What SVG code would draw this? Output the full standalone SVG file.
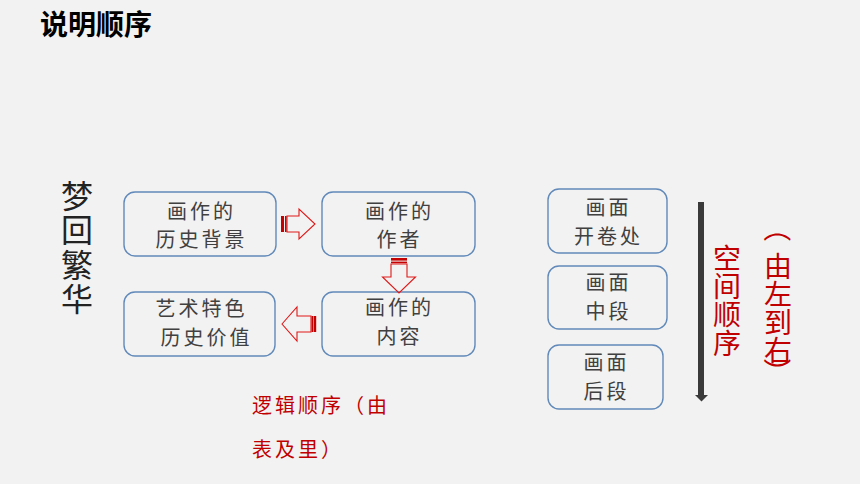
<svg xmlns="http://www.w3.org/2000/svg" width="860" height="484" viewBox="0 0 860 484">
  <style>
    .box { fill: #f2f2f2; stroke: #6189b9; stroke-width: 1.4; }
    .bt { font-family: "Noto Sans CJK SC", "Noto Sans", sans-serif; font-size: 20px; fill: #404040; text-anchor: middle; letter-spacing: 3px; }
    .barr { fill: none; stroke: #e01818; stroke-width: 1.1; stroke-linejoin: miter; }
    .stripe { fill: #c40000; }
    .vt { font-family: "Noto Sans CJK SC", sans-serif; fill: #c00000; font-size: 28px; writing-mode: vertical-rl; }
    .par { font-family: "Noto Sans CJK SC", sans-serif; fill: #c00000; font-size: 28px; text-anchor: middle; dominant-baseline: central; }
  </style>
  <rect x="0" y="0" width="860" height="484" fill="#f2f2f2"/>

  <g id="title">
    <text x="40" y="35" font-family="Noto Sans CJK SC, sans-serif" font-size="28" font-weight="bold" fill="#000">说明顺序</text>
  </g>

  <g id="label-menghui">
    <text x="77" y="180" font-family="Noto Sans CJK SC, sans-serif" font-size="32" fill="#222" letter-spacing="2.3" style="writing-mode: vertical-rl">梦回繁华</text>
  </g>

  <g id="node-background">
    <rect class="box" x="124" y="192" width="152" height="64" rx="11"/>
    <text class="bt"><tspan x="201.5" y="219">画作的</tspan><tspan x="201.5" y="247">历史背景</tspan></text>
  </g>
  <g id="node-author">
    <rect class="box" x="322" y="192" width="153" height="64" rx="11"/>
    <text class="bt"><tspan x="399.5" y="219">画作的</tspan><tspan x="399.5" y="247">作者</tspan></text>
  </g>
  <g id="node-content">
    <rect class="box" x="322" y="292" width="153" height="64" rx="11"/>
    <text class="bt"><tspan x="399.5" y="315">画作的</tspan><tspan x="399.5" y="344">内容</tspan></text>
  </g>
  <g id="node-value">
    <rect class="box" x="124" y="292" width="151" height="64" rx="11"/>
    <text class="bt"><tspan x="201.5" y="316">艺术特色</tspan><tspan x="206.5" y="345">历史价值</tspan></text>
  </g>

  <g id="node-start">
    <rect class="box" x="548" y="189" width="119" height="64" rx="11"/>
    <text class="bt"><tspan x="608.5" y="215">画面</tspan><tspan x="608.5" y="244">开卷处</tspan></text>
  </g>
  <g id="node-middle">
    <rect class="box" x="548" y="266" width="119" height="63" rx="11"/>
    <text class="bt"><tspan x="608.5" y="290">画面</tspan><tspan x="608.5" y="319">中段</tspan></text>
  </g>
  <g id="node-end">
    <rect class="box" x="548" y="345" width="115" height="64" rx="11"/>
    <text class="bt"><tspan x="606.5" y="370">画面</tspan><tspan x="606.5" y="399">后段</tspan></text>
  </g>

  <g id="connectors">
    <rect class="stripe" x="281" y="216" width="3" height="16"/>
    <rect class="stripe" x="285" y="216" width="1.6" height="16"/>
    <polygon class="barr" points="287,216 299,216 299,209 315,224 299,239 299,232 287,232"/>
    <rect class="stripe" x="391" y="258" width="16" height="2.6"/>
    <rect class="stripe" x="391" y="261.6" width="16" height="1.6"/>
    <polygon class="barr" points="391,264 407,264 407,277 415.5,277 399,293 382.5,277 391,277"/>
    <rect class="stripe" x="311.5" y="316" width="1.6" height="16"/>
    <rect class="stripe" x="313.6" y="316" width="2.6" height="16"/>
    <polygon class="barr" points="282,324 297,307 297,316 311,316 311,332 297,332 297,341"/>
    <rect x="698" y="202" width="6" height="193" fill="#3a3a3a"/>
    <polygon points="695,395 708,395 701.5,401.5" fill="#3a3a3a"/>
  </g>

  <g id="label-spatial">
    <text class="vt" x="727" y="244" letter-spacing="0.4">空间顺序</text>
  </g>

  <g id="label-lefttoright">
    <text class="par" x="778" y="228" transform="rotate(90 778 228)">（</text>
    <text class="vt" x="778" y="252" font-size="27">由左到右</text>
    <text class="par" x="778" y="372" transform="rotate(90 778 372)">）</text>
  </g>

  <g id="label-logic" font-family="Noto Sans CJK SC, sans-serif" font-size="20" fill="#c00000" letter-spacing="3">
    <text x="252" y="412.5">逻辑顺序（由</text>
    <text x="252" y="456.5">表及里）</text>
  </g>
</svg>
